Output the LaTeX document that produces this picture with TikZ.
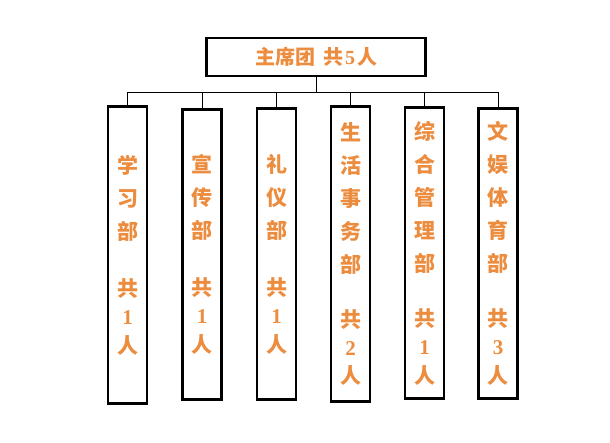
\documentclass[tikz,border=0pt]{standalone}
\usepackage{fontspec}
\newfontfamily\cjk{Noto Sans CJK SC}
\newfontfamily\shuzi{Liberation Serif}
\definecolor{chengse}{RGB}{236,140,62}
\begin{document}
\begin{tikzpicture}[x=1pt,y=-1pt,
	bumen/.style={draw,line width=2.4pt,minimum width=39pt,anchor=center,align=center,text=chengse,font=\cjk\bfseries\fontsize{21}{33}\selectfont},
	lian/.style={line width=0.8pt}]
\useasboundingbox (0,0) rectangle (610,442);
\node (zxt) at (316,57) [draw,line width=2.4pt,minimum width=219pt,minimum height=38pt,anchor=center,text=chengse,font=\cjk\bfseries\fontsize{20}{24}\selectfont] {主席团\hspace{8pt}共\hspace{2pt}{\shuzi\bfseries 5}\hspace{2pt}人};
\node (xxb) at (127.5,255) [bumen,minimum height=297pt] {学\\习\\部\\[24pt]共\\[-5pt]{\shuzi\bfseries 1}\\[-4pt]人};
\node (xcb) at (202,254.5) [bumen,minimum height=290pt] {宣\\传\\部\\[24pt]共\\[-5pt]{\shuzi\bfseries 1}\\[-4pt]人};
\node (lyb) at (276.5,254) [bumen,minimum height=291pt] {礼\\仪\\部\\[24pt]共\\[-5pt]{\shuzi\bfseries 1}\\[-4pt]人};
\node (shb) at (350.5,254) [bumen,minimum height=295pt] {生\\活\\事\\务\\部\\[22pt]共\\[-5pt]{\shuzi\bfseries 2}\\[-5pt]人};
\node (zhb) at (424.5,253) [bumen,minimum height=291pt] {综\\合\\管\\理\\部\\[22pt]共\\[-5pt]{\shuzi\bfseries 1}\\[-4pt]人};
\node (wtb) at (498,253.5) [bumen,minimum height=290pt] {文\\娱\\体\\育\\部\\[22pt]共\\[-5pt]{\shuzi\bfseries 3}\\[-4pt]人};
\draw[lian] (zxt.south) -- ++(0,15) coordinate (bus);
\draw[lian] (xxb.north) |- (bus);
\draw[lian] (xcb.north) |- (bus);
\draw[lian] (lyb.north) |- (bus);
\draw[lian] (shb.north) |- (bus);
\draw[lian] (zhb.north) |- (bus);
\draw[lian] (wtb.north) |- (bus);
\end{tikzpicture}
\end{document}
